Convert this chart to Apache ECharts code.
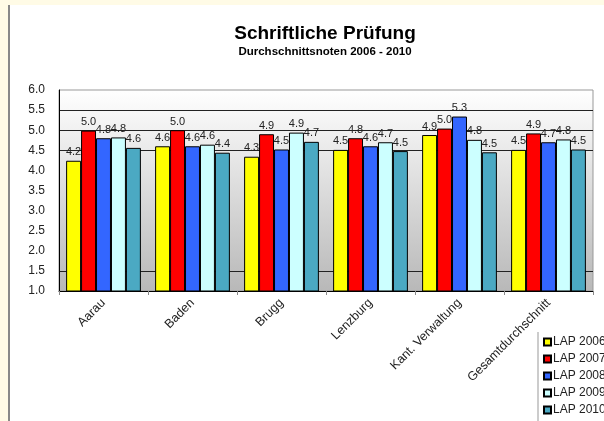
<!DOCTYPE html>
<html>
<head>
<meta charset="utf-8">
<script src="https://cdn.jsdelivr.net/npm/echarts@6/dist/echarts.min.js"></script>
<style>
  html, body { margin: 0; padding: 0; background: #fff; }
  #chart { width: 604px; height: 421px; }
</style>
</head>
<body>
<div id="chart"></div>
<script>
// Kategorien und Werte
const orte = ['Aarau', 'Baden', 'Brugg', 'Lenzburg', 'Kant. Verwaltung', 'Gesamtdurchschnitt'];
const jahre = ['LAP 2006', 'LAP 2007', 'LAP 2008', 'LAP 2009', 'LAP 2010'];
const lap2006 = [4.24, 4.60, 4.34, 4.51, 4.88, 4.51];
const lap2007 = [4.99, 5.00, 4.90, 4.80, 5.04, 4.92];
const lap2008 = [4.80, 4.60, 4.52, 4.60, 5.34, 4.70];
const lap2009 = [4.82, 4.64, 4.94, 4.70, 4.76, 4.77];
const lap2010 = [4.56, 4.44, 4.71, 4.48, 4.45, 4.52];
const farben = ['#FFFF00', '#FF0000', '#3366FF', '#CCFFFF', '#4BA9C3'];

const werte = [lap2006, lap2007, lap2008, lap2009, lap2010];
const chart = echarts.init(document.getElementById('chart'));

// nur einzelne Gitterlinien sichtbar (1.5, 4.5, 5.0, 5.5)
const gitterFarben = ['transparent', '#222', 'transparent', 'transparent', 'transparent',
  'transparent', 'transparent', '#222', '#222', '#222', 'transparent'];

const option = {
  animation: false,
  textStyle: { fontFamily: 'Liberation Sans, Arial, sans-serif' },
  title: {
    text: 'Schriftliche Prüfung',
    subtext: 'Durchschnittsnoten 2006 - 2010',
    left: 320,
    top: 19,
    textAlign: 'center',
    itemGap: 3,
    textStyle: { fontSize: 19, fontWeight: 'bold', color: '#000' },
    subtextStyle: { fontSize: 11.5, fontWeight: 'bold', color: '#000' }
  },
  graphic: [
    { type: 'rect', shape: { x: 0, y: 0, width: 604, height: 5 }, style: { fill: '#FFFBE6' } },
    { type: 'rect', shape: { x: 0, y: 0, width: 8, height: 421 }, style: { fill: '#FFFBE6' } },
    { type: 'line', shape: { x1: 9, y1: 5, x2: 9, y2: 421 }, style: { stroke: '#888', lineWidth: 2 } },
    { type: 'line', shape: { x1: 538, y1: 332, x2: 538, y2: 421 }, style: { stroke: '#999', lineWidth: 1 } }
  ],
  legend: {
    orient: 'vertical',
    left: 543,
    top: 336,
    padding: 0,
    itemWidth: 7,
    itemHeight: 7,
    itemGap: 5,
    icon: 'rect',
    textStyle: { fontSize: 12, color: '#222', padding: [0, 0, 0, -3] },
    data: jahre
  },
  grid: {
    left: 59,
    right: 11,
    top: 90,
    bottom: 130,
    show: true,
    borderColor: '#999',
    borderWidth: 1,
    backgroundColor: new echarts.graphic.LinearGradient(0, 0, 0, 1, [
      { offset: 0, color: '#ffffff' },
      { offset: 1, color: '#b8b8b8' }
    ])
  },
  xAxis: {
    type: 'category',
    data: orte,
    axisLine: { lineStyle: { color: '#000', width: 1 } },
    axisTick: { show: true, length: 4, lineStyle: { color: '#888' } },
    axisLabel: { rotate: 45, fontSize: 12.5, color: '#222', margin: 10 }
  },
  yAxis: {
    type: 'value',
    min: 1,
    max: 6,
    interval: 0.5,
    axisLine: { show: true, lineStyle: { color: '#000', width: 1 } },
    axisTick: { show: false },
    axisLabel: {
      fontSize: 12, color: '#222', margin: 14,
      formatter: v => v.toFixed(1)
    },
    splitLine: { show: true, lineStyle: { color: gitterFarben, width: 1 } }
  },
  series: jahre.map((name, i) => ({
    name: name,
    type: 'bar',
    data: werte[i],
    barGap: '0%',
    barCategoryGap: '16%',
    itemStyle: { color: farben[i], borderColor: '#000', borderWidth: 1 },
    label: {
      show: true,
      position: 'top',
      distance: 3,
      fontSize: 11,
      color: '#222',
      formatter: p => p.value.toFixed(1)
    }
  }))
};

chart.setOption(option);
</script>
</body>
</html>
